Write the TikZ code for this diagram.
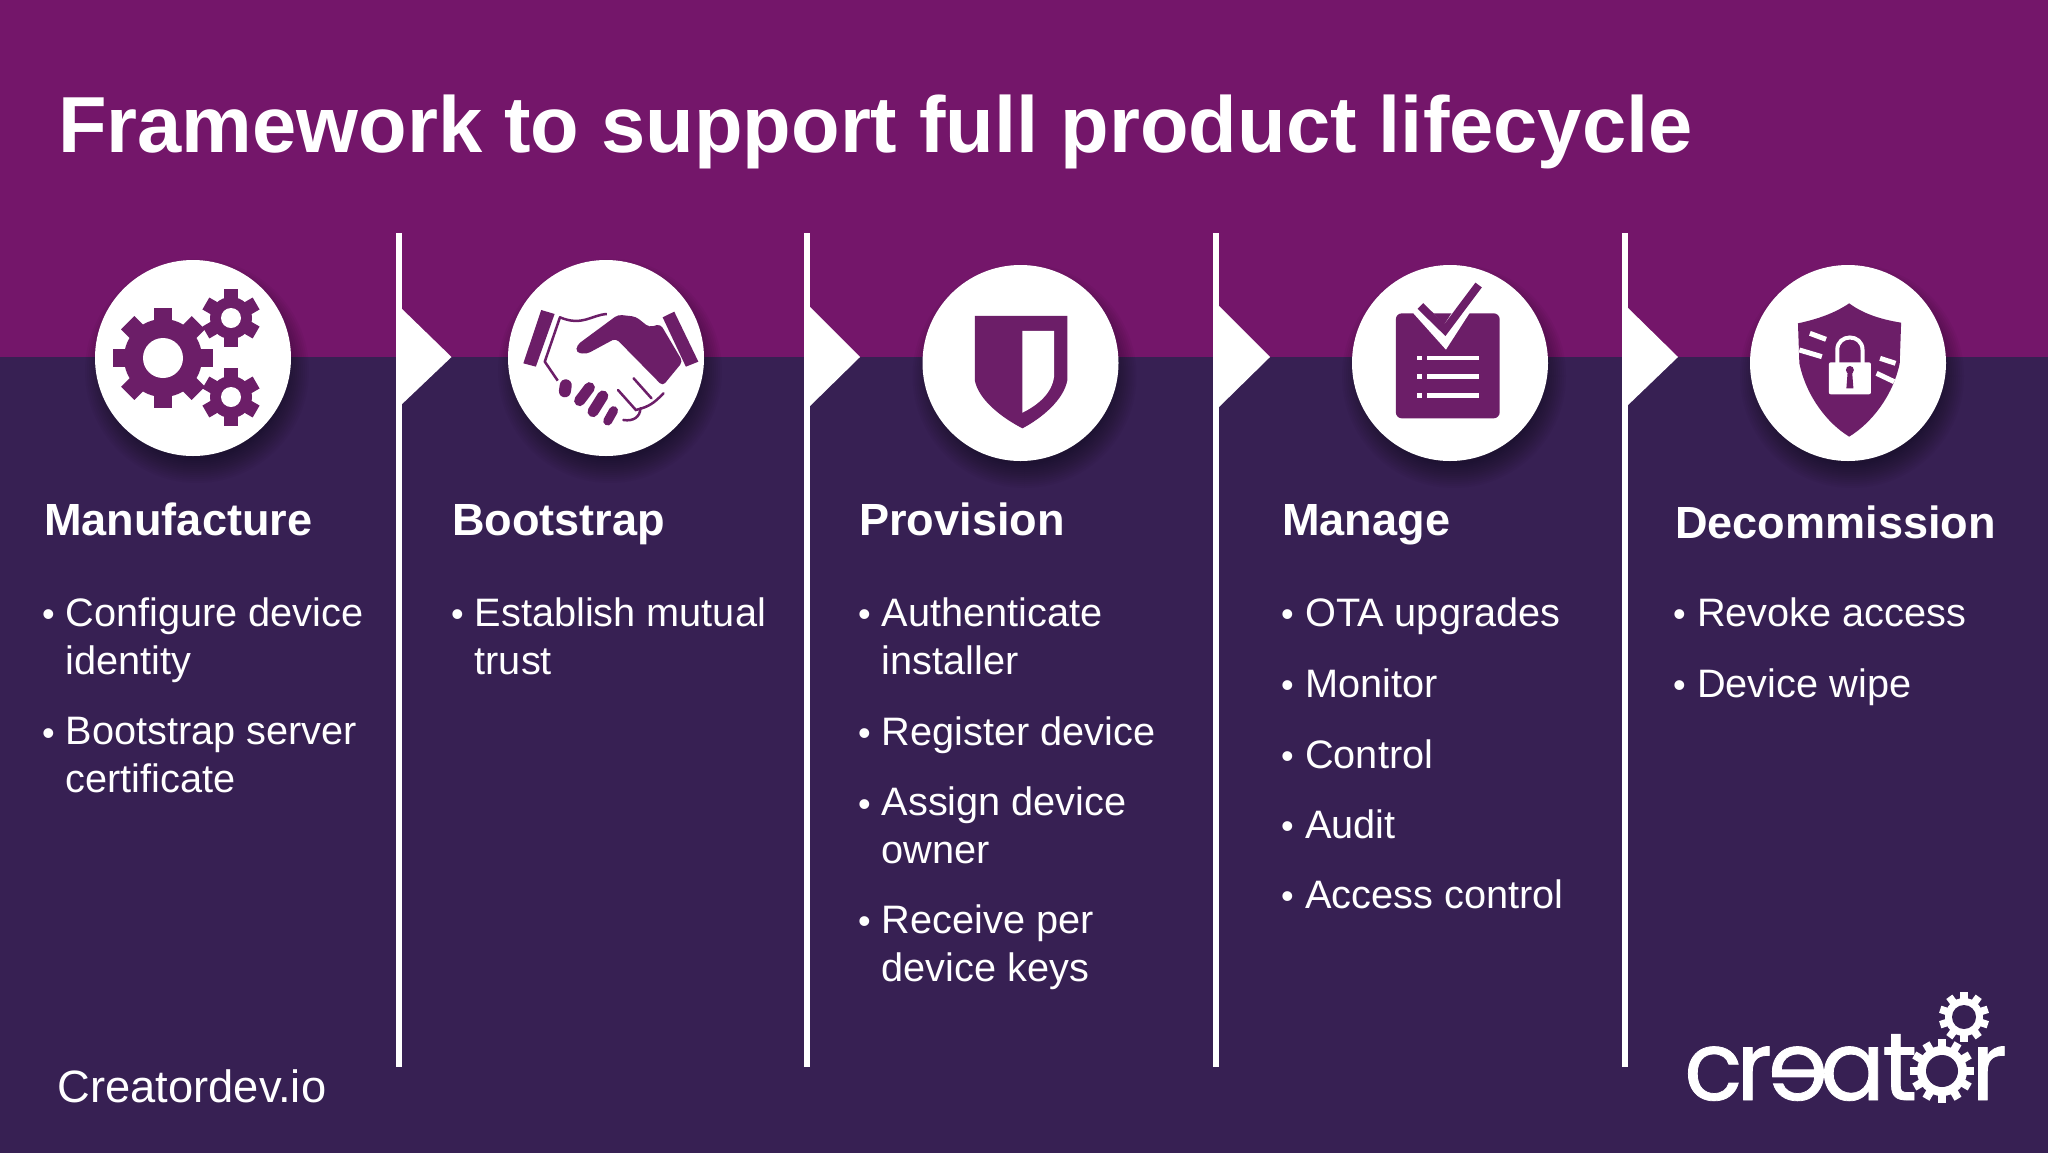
\documentclass[tikz,border=0pt]{standalone}
\usepackage{fontspec}
\setmainfont{Liberation Sans}
\newfontfamily\logofont[FakeBold=0.8]{Poppins}
\definecolor{topbg}{RGB}{116,22,106}
\definecolor{botbg}{RGB}{55,32,83}
\definecolor{icon}{RGB}{108,30,104}
\newcommand{\gearshape}[7]{%
  \fill[#7] (#1,#2) circle[radius=#4pt];
  \pgfmathsetmacro{\gstep}{360/#6}
  \pgfmathsetmacro{\gw}{#3*(3.0/#6)*#5}
  \foreach \k in {1,...,#6}{
    \pgfmathsetmacro{\ga}{\k*\gstep}
    \fill[#7,rotate around={\ga:(#1,#2)}] ({#1-\gw/2},#2) rectangle ({#1+\gw/2},{#2-#3});
  }
}
\tikzset{
  sep/.style={white,line width=6pt},
  chev/.style={fill=white},
  disc/.style={fill=white},
  heading/.style={text=white,anchor=base west,inner sep=0pt,font=\bfseries\fontsize{45.1}{54}\selectfont},
  item/.style={text=white,anchor=base west,inner sep=0pt,align=left,font=\fontsize{39.7}{48}\selectfont},
  dot/.style={text=white,anchor=base west,inner sep=0pt,font=\fontsize{36}{48}\selectfont},
  logo/.style={text=white,anchor=base west,inner sep=0pt,font=\logofont\fontsize{96}{96}\selectfont},
}
\newcommand{\shadowdisc}[2]{%
  \foreach \r in {112,110,...,88}{
    \fill[black,opacity=0.032] ({#1+4},{#2+13}) circle[radius=\r pt];
  }
  \fill[disc] (#1,#2) circle[radius=98pt];
}
\begin{document}
\begin{tikzpicture}[x=1pt,y=-1pt]
\useasboundingbox (0,0) rectangle (2048,1152);
\fill[topbg] (-2,-2) rectangle (2050,357);
\fill[botbg] (-2,357) rectangle (2050,1154);

\node[text=white,anchor=base west,inner sep=0pt,font=\bfseries\fontsize{79.5}{90}\selectfont] (title) at (58,152) {Framework to support full product lifecycle};

% separators and chevrons
\coordinate (s1t) at (399,233); \coordinate (s1b) at (399,1067);
\coordinate (s2t) at (807,233); \coordinate (s2b) at (807,1067);
\coordinate (s3t) at (1216,233); \coordinate (s3b) at (1216,1067);
\coordinate (s4t) at (1625,233); \coordinate (s4b) at (1625,1067);
\draw[sep] (s1t) -- (s1b);
\draw[sep] (s2t) -- (s2b);
\draw[sep] (s3t) -- (s3b);
\draw[sep] (s4t) -- (s4b);
\fill[chev] (400,307) -- (451.5,357) -- (400,406) -- cycle;
\fill[chev] (808,305) -- (860,357) -- (808,408) -- cycle;
\fill[chev] (1217,304) -- (1270,357) -- (1217,409) -- cycle;
\fill[chev] (1626,306) -- (1678,357) -- (1626,407) -- cycle;

% discs
\shadowdisc{193}{358}
\shadowdisc{606}{358}
\shadowdisc{1020.5}{363}
\shadowdisc{1450}{363}
\shadowdisc{1848}{363}

% gears
\gearshape{163}{358}{50}{39}{1.0}{8}{icon}
\fill[white] (163,358) circle[radius=20pt];
\gearshape{231}{318}{29}{21}{0.95}{6}{icon}
\fill[white] (231,318) circle[radius=10pt];
\gearshape{231}{397}{29}{21}{0.95}{6}{icon}
\fill[white] (231,397) circle[radius=10pt];

% handshake
\begin{scope}[shift={(60,230)},x=0.4464pt,y=-0.3333pt]
  \fill[icon] (1078,240) -- (1108,252) -- (1066,410) -- (1038,400) -- cycle;
  \fill[icon] (1350,262) -- (1376,245) -- (1430,395) -- (1402,410) -- cycle;
  \fill[icon,rounded corners=4pt] (1158,345) -- (1250,254) -- (1290,260) -- (1320,292) -- (1345,282) -- (1395,395) -- (1350,468) -- (1245,325) -- (1180,372) -- (1156,368) -- cycle;
  \draw[icon,line width=2.5pt,line join=round] (1225,252) .. controls (1190,255) and (1170,290) .. (1120,262) -- (1086,395) -- (1115,452);
  \draw[icon,line width=2.5pt,line cap=round] (1250,480) -- (1290,540) .. controls (1320,530) and (1330,520) .. (1352,490);
  \draw[icon,line width=2.5pt,line cap=round] (1285,445) -- (1325,505);
  \draw[icon,line width=2.5pt,line cap=round] (1300,535) .. controls (1300,560) and (1285,575) .. (1262,570);
  \draw[icon,line width=12pt,line cap=round] (1133,466) -- (1131,484);
  \draw[icon,line width=11pt,line cap=round] (1186,473) -- (1164,512);
  \draw[icon,line width=11pt,line cap=round] (1216,498) -- (1194,545);
  \draw[icon,line width=9pt,line cap=round] (1240,542) -- (1227,573);
\end{scope}

\begin{scope}[shift={(880,230)},x=0.7018pt,y=-0.3333pt]
  % shield
  \fill[icon] (135,258) -- (267,258) -- (267,450) .. controls (262,510) and (230,565) .. (203,595) .. controls (175,565) and (140,510) .. (135,450) -- cycle;
  \fill[white] (203,303) -- (248,303) -- (248,440) .. controls (245,490) and (225,525) .. (203,548) -- cycle;
  % checklist
  \fill[icon,rounded corners=6pt] (735,250) rectangle (883,565);
  \draw[white,line width=15pt,line join=miter] (768,235) -- (805,322) -- (851,172);
  \draw[icon,line width=8pt,line join=miter] (770,228) -- (805,300) -- (853,165);
  \fill[white] (780,378) rectangle (853,391);
  \fill[white] (780,433) rectangle (853,447);
  \fill[white] (780,490) rectangle (853,504);
  \fill[white] (765,378) rectangle (772,391);
  \fill[white] (765,433) rectangle (772,447);
  \fill[white] (765,490) rectangle (772,504);
  % lock shield
  \fill[icon] (1381,220) .. controls (1360,250) and (1335,268) .. (1308,280) -- (1310,400) .. controls (1320,500) and (1350,580) .. (1381,620) .. controls (1412,580) and (1443,500) .. (1453,400) -- (1455,278) .. controls (1425,268) and (1400,250) .. cycle;
  \draw[white,line width=5pt] (1325,310) -- (1348,328);
  \draw[white,line width=5pt] (1310,360) -- (1342,380);
  \draw[white,line width=5pt] (1425,385) -- (1447,400);
  \draw[white,line width=5pt] (1420,430) -- (1445,455);
  \draw[white,line width=4pt] (1364,400) -- (1364,360) .. controls (1364,310) and (1400,310) .. (1400,360) -- (1400,400);
  \fill[white,rounded corners=2pt] (1352,397) rectangle (1412,493);
  \fill[icon] (1382,420) circle[radius=4pt];
  \fill[icon] (1379,420) -- (1385,420) -- (1387,475) -- (1377,475) -- cycle;
\end{scope}

% headings
\node[heading] (h1) at (44,535.5) {Manufacture};
\node[heading] (h2) at (452,535.5) {Bootstrap};
\node[heading] (h3) at (859,535.5) {Provision};
\node[heading] (h4) at (1282,535.5) {Manage};
\node[heading] (h5) at (1675,538.5) {Decommission};

% column 1
\node[dot] (b11) at (42,626.7) {•};
\node[item] (t11) at (65.5,674) {Configure device\\identity};
\node[dot] (b12) at (42,745) {•};
\node[item] (t12) at (65.5,792.5) {Bootstrap server\\certificate};
% column 2
\node[dot] (b21) at (451,626.7) {•};
\node[item] (t21) at (474.5,674) {Establish mutual\\trust};
% column 3
\node[dot] (b31) at (858,626.7) {•};
\node[item] (t31) at (881.5,674) {Authenticate\\installer};
\node[dot] (b32) at (858,745) {•};
\node[item] (t32) at (881.5,745) {Register device};
\node[dot] (b33) at (858,816) {•};
\node[item] (t33) at (881.5,863) {Assign device\\owner};
\node[dot] (b34) at (858,933.5) {•};
\node[item] (t34) at (881.5,981) {Receive per\\device keys};
% column 4
\node[dot] (b41) at (1281,626.7) {•};
\node[item] (t41) at (1305,626.7) {OTA upgrades};
\node[dot] (b42) at (1281,697) {•};
\node[item] (t42) at (1305,697) {Monitor};
\node[dot] (b43) at (1281,768) {•};
\node[item] (t43) at (1305,768) {Control};
\node[dot] (b44) at (1281,838) {•};
\node[item] (t44) at (1305,838) {Audit};
\node[dot] (b45) at (1281,908.7) {•};
\node[item] (t45) at (1305,908.7) {Access control};
% column 5
\node[dot] (b51) at (1673,626.7) {•};
\node[item] (t51) at (1697,626.7) {Revoke access};
\node[dot] (b52) at (1673,697) {•};
\node[item] (t52) at (1697,697) {Device wipe};

\node[text=white,anchor=base west,inner sep=0pt,font=\fontsize{45.3}{50}\selectfont] (site) at (57.5,1102.5) {Creatordev.io};

% logo
\node[logo] (lc) at (1684,1100) {c};
\node[logo] (lr) at (1736,1100) {r};
\node[logo] (le) at (1768,1100) {\scalebox{-1}[1]{e}};
\node[logo] (la) at (1820,1100) {a};
\node[logo] (lt) at (1882,1100) {t};
\node[logo] (lr2) at (1971,1100) {r};
\gearshape{1942}{1071}{32}{25}{1.0}{12}{white}
\fill[botbg] (1942,1071) circle[radius=16pt];
\gearshape{1964}{1017}{25}{19}{1.0}{10}{white}
\fill[botbg] (1964,1017) circle[radius=12pt];
\end{tikzpicture}
\end{document}
